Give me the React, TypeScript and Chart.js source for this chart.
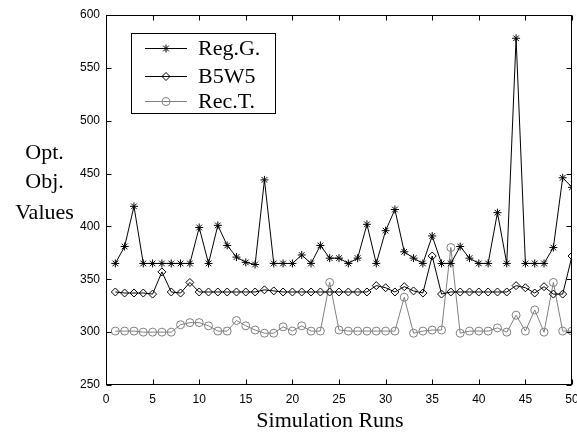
import React, { useEffect, useRef } from 'react';
import { Chart, registerables } from 'chart.js';

Chart.register(...registerables);

const runs = [1, 2, 3, 4, 5, 6, 7, 8, 9, 10, 11, 12, 13, 14, 15, 16, 17, 18, 19, 20, 21, 22, 23, 24, 25, 26, 27, 28, 29, 30, 31, 32, 33, 34, 35, 36, 37, 38, 39, 40, 41, 42, 43, 44, 45, 46, 47, 48, 49, 50];
const regG = [365, 381, 419, 365, 365, 365, 365, 365, 365, 399, 365, 401, 382, 371, 366, 364, 444, 365, 365, 365, 373, 365, 382, 370, 370, 365, 370, 402, 365, 396, 416, 376, 370, 365, 391, 365, 365, 381, 370, 365, 365, 413, 365, 578, 365, 365, 365, 380, 446, 437];
const b5w5 = [338, 337, 337, 337, 336, 357, 338, 337, 347, 338, 338, 338, 338, 338, 338, 338, 340, 339, 338, 338, 338, 338, 338, 338, 338, 338, 338, 338, 344, 342, 338, 343, 339, 337, 372, 336, 338, 338, 338, 338, 338, 338, 338, 344, 342, 337, 343, 336, 336, 372];
const recT = [301, 301, 301, 300, 300, 300, 300, 307, 309, 309, 306, 301, 301, 311, 306, 302, 299, 299, 305, 301, 306, 301, 301, 347, 302, 301, 301, 301, 301, 301, 301, 333, 299, 301, 302, 302, 380, 299, 301, 301, 301, 304, 300, 316, 301, 321, 300, 347, 301, 301];

const xTicks = [0, 5, 10, 15, 20, 25, 30, 35, 40, 45, 50];
const yTicks = [250, 300, 350, 400, 450, 500, 550, 600];

const seriesNames = ['Reg.G.', 'B5W5', 'Rec.T.'];
const seriesColors = ['#000000', '#000000', '#808080'];
const seriesMarkers = ['star', 'rectRot', 'circle'];
const yTitleLines = ['Opt.', 'Obj.', 'Values'];
const xTitle = 'Simulation Runs';

const SERIF = '"Liberation Serif", "Times New Roman", serif';
const SANS = '"Liberation Sans", Arial, sans-serif';

function drawMarker(ctx: CanvasRenderingContext2D, kind: string, cx: number, cy: number, r: number) {
  ctx.beginPath();
  if (kind === 'star') {
    for (let k = 0; k < 4; k++) {
      const a = (k * Math.PI) / 4;
      ctx.moveTo(cx - Math.cos(a) * r, cy - Math.sin(a) * r);
      ctx.lineTo(cx + Math.cos(a) * r, cy + Math.sin(a) * r);
    }
  } else if (kind === 'rectRot') {
    ctx.moveTo(cx, cy - r);
    ctx.lineTo(cx + r, cy);
    ctx.lineTo(cx, cy + r);
    ctx.lineTo(cx - r, cy);
    ctx.closePath();
  } else {
    ctx.arc(cx, cy, r, 0, Math.PI * 2);
  }
  ctx.stroke();
}

const framePlugin = {
  id: 'matlabFrame',
  afterDraw(chart: any) {
    const { ctx, chartArea } = chart;
    const { left, right, top, bottom } = chartArea;
    const xs = chart.scales.x;
    const ys = chart.scales.y;
    ctx.save();
    ctx.strokeStyle = '#000';
    ctx.lineWidth = 1;
    const L = Math.round(left) + 0.5;
    const R = Math.round(right) - 0.5;
    const T = Math.round(top) + 0.5;
    const B = Math.round(bottom) - 0.5;
    ctx.strokeRect(L, T, R - L, B - T);
    const tl = 5;
    ctx.beginPath();
    for (const v of xTicks) {
      const px = Math.round(xs.getPixelForValue(v)) + 0.5;
      ctx.moveTo(px, B);
      ctx.lineTo(px, B - tl);
      ctx.moveTo(px, T);
      ctx.lineTo(px, T + tl);
    }
    for (const v of yTicks) {
      const py = Math.round(ys.getPixelForValue(v)) + 0.5;
      ctx.moveTo(L, py);
      ctx.lineTo(L + tl, py);
      ctx.moveTo(R, py);
      ctx.lineTo(R - tl, py);
    }
    ctx.stroke();

    // legend
    const lx = 131.5, ly = 33.5, lw = 144, lh = 80;
    ctx.fillStyle = '#fff';
    ctx.fillRect(lx, ly, lw, lh);
    ctx.strokeStyle = '#000';
    ctx.strokeRect(lx, ly, lw, lh);
    const rowY = [48.5, 76.5, 101.5];
    const baseY = [54.5, 82.5, 107.5];
    ctx.font = '22px ' + SERIF;
    ctx.textAlign = 'left';
    ctx.textBaseline = 'alphabetic';
    for (let i = 0; i < seriesNames.length; i++) {
      ctx.strokeStyle = seriesColors[i];
      ctx.beginPath();
      ctx.moveTo(145, rowY[i]);
      ctx.lineTo(187, rowY[i]);
      ctx.stroke();
      drawMarker(ctx, seriesMarkers[i], 166, rowY[i], 4);
      ctx.fillStyle = '#000';
      ctx.fillText(seriesNames[i], 198, baseY[i]);
    }

    // y title (horizontal, three lines)
    ctx.textAlign = 'center';
    const yb = [159, 188, 219];
    for (let i = 0; i < yTitleLines.length; i++) {
      ctx.fillText(yTitleLines[i], 44.5, yb[i]);
    }
    // x title
    ctx.fillText(xTitle, 330, 427);
    ctx.restore();
  },
};

export default function App() {
  const ref = useRef<HTMLCanvasElement>(null);
  useEffect(() => {
    document.body.style.margin = '0';
    const toXY = (ys: number[]) => runs.map((x, i) => ({ x, y: ys[i] }));
    const mk = (i: number, ys: number[]) => ({
      label: seriesNames[i],
      data: toXY(ys),
      borderColor: seriesColors[i],
      borderWidth: 1,
      pointStyle: seriesMarkers[i],
      pointRadius: 4,
      pointBorderColor: seriesColors[i],
      pointBackgroundColor: 'rgba(0,0,0,0)',
      pointBorderWidth: 1,
      tension: 0,
      fill: false,
    });
    const chart = new Chart(ref.current as HTMLCanvasElement, {
      type: 'line',
      data: { datasets: [mk(0, regG), mk(1, b5w5), mk(2, recT)] as any },
      options: {
        responsive: false,
        animation: false,
        layout: { padding: { left: 0, top: 15, right: 5, bottom: 0 } },
        plugins: { legend: { display: false }, tooltip: { enabled: false } },
        scales: {
          x: {
            type: 'linear',
            min: 0,
            max: 50,
            afterBuildTicks: (s: any) => {
              s.ticks = xTicks.map((v) => ({ value: v }));
            },
            afterFit: (s: any) => {
              s.height = 47;
              s.paddingLeft = 0;
              s.paddingRight = 0;
            },
            ticks: {
              color: '#000',
              font: { family: SANS, size: 12 },
              padding: 7,
              maxRotation: 0,
              autoSkip: false,
            },
            grid: { display: false, drawTicks: false },
            border: { display: false },
          },
          y: {
            type: 'linear',
            min: 250,
            max: 600,
            afterBuildTicks: (s: any) => {
              s.ticks = yTicks.map((v) => ({ value: v }));
            },
            afterFit: (s: any) => {
              s.width = 106;
              s.paddingTop = 0;
              s.paddingBottom = 0;
            },
            ticks: {
              color: '#000',
              font: { family: SANS, size: 12 },
              padding: 6,
              autoSkip: false,
            },
            grid: { display: false, drawTicks: false },
            border: { display: false },
          },
        },
      } as any,
      plugins: [framePlugin],
    });
    return () => chart.destroy();
  }, []);
  return (
    <div style={{ position: 'fixed', left: 0, top: 0, width: 577, height: 432 }}>
      <canvas ref={ref} width={577} height={432} />
    </div>
  );
}
